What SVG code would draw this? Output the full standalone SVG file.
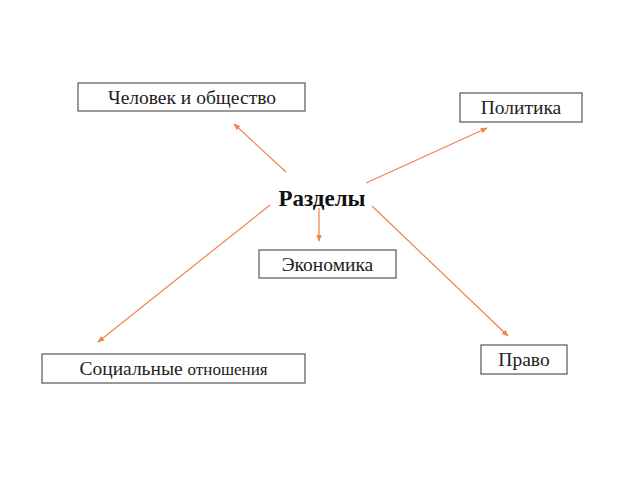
<svg xmlns="http://www.w3.org/2000/svg" width="640" height="480" viewBox="0 0 640 480">
<style>
.box{fill:#fff;stroke:#555;stroke-width:1.2}
.t{font-family:"Liberation Serif","DejaVu Serif",serif;font-size:19.5px;fill:#222;text-anchor:middle}
.title{font-family:"Liberation Serif","DejaVu Serif",serif;font-size:23px;font-weight:bold;fill:#111;text-anchor:middle}
.c{stroke:#F0824A;stroke-width:1.2;fill:none;marker-end:url(#ah)}
</style>
<defs>
<marker id="ah" viewBox="0 0 10 10" refX="9" refY="5" markerWidth="7" markerHeight="7" orient="auto" markerUnits="userSpaceOnUse">
<path d="M0,1 L10,5 L0,9 z" fill="#F0824A"/>
</marker>
</defs>
<rect width="640" height="480" fill="#fff"/>
<g id="connectors">
<line class="c" x1="286" y1="172" x2="234" y2="124"/>
<line class="c" x1="366" y1="183" x2="487" y2="128"/>
<line class="c" x1="319" y1="208" x2="319" y2="241"/>
<line class="c" x1="270" y1="205" x2="98" y2="342"/>
<line class="c" x1="372" y1="206" x2="508" y2="336"/>
</g>
<g id="razdely"><text class="title" x="322" y="206">Разделы</text></g>
<g id="chelovek"><rect class="box" x="78" y="83" width="227" height="28"/><text class="t" x="192" y="104">Человек и общество</text></g>
<g id="politika"><rect class="box" x="460" y="93" width="122" height="29"/><text class="t" x="521" y="114">Политика</text></g>
<g id="ekonomika"><rect class="box" x="259" y="250" width="137" height="28"/><text class="t" x="327.5" y="271">Экономика</text></g>
<g id="social"><rect class="box" x="42" y="354" width="263" height="29"/><text class="t" x="173.5" y="375">Социальные <tspan font-size="17px">отношения</tspan></text></g>
<g id="pravo"><rect class="box" x="481" y="345" width="86" height="29"/><text class="t" x="524" y="366">Право</text></g>
</svg>
